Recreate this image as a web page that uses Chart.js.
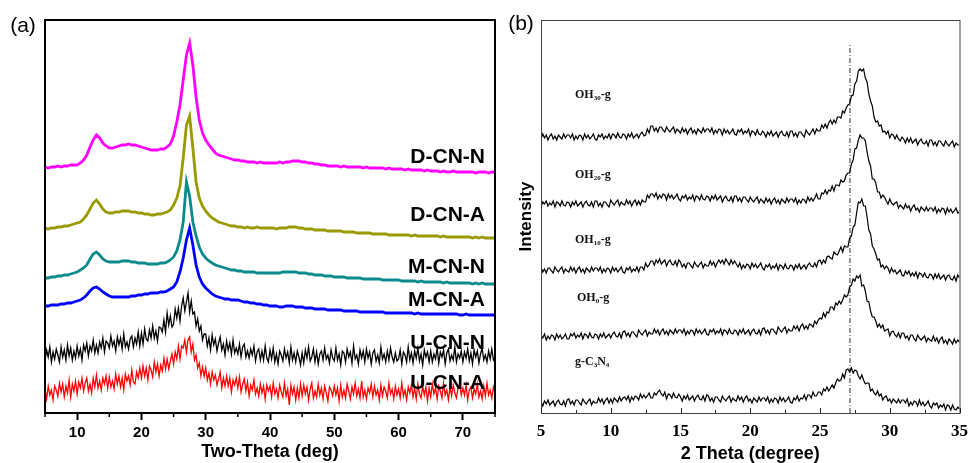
<!DOCTYPE html>
<html>
<head>
<meta charset="utf-8">
<title>XRD patterns</title>
<script src="https://cdn.jsdelivr.net/npm/chart.js@4.4.1/dist/chart.umd.min.js"></script>
<style>
  html, body { margin: 0; padding: 0; background: #fff; }
  #wrap { position: relative; width: 976px; height: 463px; overflow: hidden; }
  #panelA { position: absolute; left: 0; top: 0; }
  #panelB { position: absolute; left: 500px; top: 0; }
</style>
</head>
<body>
<div id="wrap">
  <canvas id="panelA" width="500" height="463"></canvas>
  <canvas id="panelB" width="476" height="463"></canvas>
</div>
<script>
// ---- panel (a): 2-theta grids (deg) ----
const thetaA = Array.from({ length: 141 }, (_, i) => 5 + i * 0.5);      // 0.5 deg steps
const thetaAfine = Array.from({ length: 281 }, (_, i) => 5 + i * 0.25); // 0.25 deg steps
const ticksA = [10, 20, 30, 40, 50, 60, 70];
const namesA = ['D-CN-N', 'D-CN-A', 'M-CN-N', 'M-CN-A', 'U-CN-N', 'U-CN-A'];

// intensities (a.u., stacked with offsets as plotted), one row = 5 deg
const dcnN = [
  246,245,246,246,247,246,247,247,248,248,
  248,250,253,258,266,273,278,275,270,267,
  265,265,266,267,268,268,269,268,268,267,
  266,265,264,263,263,263,264,264,266,269,
  277,291,308,333,358,370,348,316,293,280,
  273,268,264,260,258,257,256,255,254,253,
  253,252,252,251,251,251,250,251,250,250,
  250,250,250,251,250,251,251,252,252,252,
  251,251,250,250,249,249,248,248,247,247,
  247,247,246,247,246,246,246,246,246,245,
  246,245,245,245,245,245,244,245,244,244,
  244,244,243,244,243,243,243,243,242,243,
  242,242,242,241,242,241,241,242,241,241,
  241,241,241,241,240,241,241,241,240,241,
  241
];
const dcnA = [
  185,184,185,185,186,186,187,187,188,189,
  190,191,194,198,204,210,213,209,204,201,
  200,200,201,201,202,202,202,201,201,200,
  200,199,199,198,198,199,199,200,201,203,
  208,215,227,255,288,297,265,231,215,207,
  202,198,195,193,191,190,189,188,187,187,
  186,186,185,186,185,185,186,185,185,185,
  185,185,184,185,185,185,186,186,186,185,
  185,184,184,184,183,183,183,183,182,182,
  182,182,182,181,181,181,181,180,180,180,
  180,180,179,179,179,179,179,178,178,178,
  178,178,178,178,177,178,177,177,177,177,
  177,177,177,176,177,176,176,176,176,176,
  176,176,176,175,176,175,176,175,175,175,
  175
];
const mcnN = [
  135,135,136,136,137,137,138,138,139,140,
  141,143,145,148,154,159,161,158,154,152,
  151,151,151,151,152,152,152,151,151,150,
  150,150,149,149,149,149,150,150,151,153,
  156,162,173,191,231,217,191,177,166,159,
  155,152,150,148,147,146,145,144,143,143,
  142,142,141,141,141,141,140,140,140,140,
  140,140,140,140,141,141,141,141,141,140,
  140,140,139,139,138,138,138,137,137,137,
  136,136,136,136,135,135,135,135,135,134,
  134,134,134,134,134,133,133,133,133,133,
  133,132,132,132,132,132,131,132,131,131,
  131,131,131,131,130,131,130,130,130,130,
  130,130,130,129,130,129,130,129,129,129,
  129
];
const mcnA = [
  107,107,108,108,108,109,109,110,110,111,
  112,113,115,118,122,125,126,124,121,119,
  117,116,116,116,116,116,116,117,117,118,
  118,119,119,120,120,120,121,121,122,124,
  126,131,141,155,173,185,168,148,136,129,
  125,122,119,117,116,115,114,114,113,113,
  113,112,111,111,110,110,109,109,108,108,
  107,107,107,106,106,107,107,107,106,106,
  106,105,105,105,104,104,104,104,103,103,
  103,103,103,102,102,102,102,102,101,101,
  101,101,101,101,101,101,100,100,100,100,
  100,100,100,100,100,99,100,99,99,99,
  99,99,99,99,99,99,99,99,99,98,
  98,99,98,98,98,98,98,98,98,98,
  98
];
// noisy patterns on the 0.25 deg grid, one row = 5 deg
const ucnN = [
  52,63,56,66,51,61,54,64,58,51,66,56,63,53,68,57,65,53,62,55,
  67,57,64,53,68,62,70,57,67,62,73,60,68,60,71,65,75,61,72,70,
  65,77,67,72,62,76,68,75,64,79,66,71,64,74,77,66,75,69,81,67,
  80,69,84,74,72,83,75,87,75,82,72,86,85,81,93,81,100,88,97,86,
  89,104,95,105,92,107,115,102,111,120,101,112,99,101,87,94,82,87,73,79,
  79,67,75,63,78,68,74,62,70,76,63,69,58,72,63,70,59,73,60,65,
  59,69,56,66,69,56,62,55,64,58,67,52,61,64,53,62,53,67,55,51,
  63,54,65,51,59,49,62,58,52,64,55,61,50,66,53,60,51,62,56,48,
  60,50,63,55,66,52,56,64,51,61,49,59,62,53,65,54,58,50,63,55,
  52,65,53,59,48,62,60,51,64,56,61,50,67,54,58,49,63,55,62,51,
  64,55,61,49,60,63,52,58,50,66,54,59,51,62,53,65,56,51,60,52,
  54,63,49,61,58,51,66,53,60,50,62,55,65,52,59,48,63,56,61,51,
  62,51,59,54,65,50,61,56,63,49,60,64,52,58,53,66,51,59,55,62,
  51,61,55,64,52,60,49,63,56,62,50,59,65,53,58,51,62,54,64,53,
  56
];
const ucnA = [
  24,14,27,18,23,13,27,23,17,30,21,29,16,27,20,33,16,29,22,32,
  19,31,25,35,22,30,35,22,29,20,35,26,38,25,32,23,35,29,37,25,
  36,26,32,24,39,29,37,26,35,23,39,32,37,28,43,31,29,41,35,45,
  35,47,37,45,33,47,43,36,51,41,49,37,48,42,55,44,54,44,52,59,
  49,61,54,67,54,67,65,73,61,73,76,61,69,53,58,45,50,37,46,37,
  45,33,40,29,41,33,38,28,34,41,25,35,27,37,27,35,21,33,28,35,
  25,36,21,29,34,22,31,17,28,23,33,19,25,17,29,20,27,14,28,22,
  27,16,30,19,24,15,28,21,16,30,17,24,8,28,19,26,13,25,15,29,
  17,28,19,26,13,24,30,15,22,16,29,18,25,14,27,20,12,26,23,17,
  27,18,25,12,28,16,23,15,29,22,14,26,19,30,17,24,15,32,16,23,
  14,25,20,29,16,27,18,23,13,28,17,26,22,15,30,19,24,14,27,18,
  24,15,30,17,23,13,26,20,28,16,25,14,29,19,15,27,18,26,12,25,
  16,29,19,25,14,27,22,15,30,18,23,13,26,17,28,20,15,25,29,18,
  25,18,28,13,23,26,15,24,19,29,16,22,14,27,17,30,18,23,15,26,
  20
];

// ---- panel (b): 2-theta grid, 5..35 deg every 0.125 deg, one row = 2 deg ----
const thetaB = Array.from({ length: 241 }, (_, i) => 5 + i * 0.125);
const ticksB = [5, 10, 15, 20, 25, 30, 35];
const refTheta = 27.15;      // reference peak position (dash-dot marker)
const refTop = 369;

const oh30 = [
  274,279,275,278,273,277,279,274,277,273,278,276,274,279,275,278,
  278,275,279,273,277,274,278,277,273,279,275,278,274,276,279,274,
  273,278,276,279,274,277,275,279,274,279,278,275,280,276,275,279,
  278,274,279,276,280,275,277,279,275,279,281,277,278,284,280,287,
  287,282,285,281,286,286,283,281,286,283,281,284,286,280,284,282,
  280,285,281,284,279,283,285,280,283,279,284,282,280,285,281,284,
  284,281,285,279,283,280,284,283,278,284,280,283,279,281,284,279,
  278,283,281,284,279,282,280,284,277,282,281,278,283,279,278,282,
  280,276,281,278,282,277,279,281,276,280,282,278,277,281,276,282,
  282,277,280,276,281,281,278,276,283,280,278,281,284,279,284,282,
  282,288,285,289,285,290,293,289,293,290,296,296,295,302,300,305,
  308,309,317,318,329,332,342,344,342,344,335,331,319,312,307,296,
  291,292,287,288,281,282,279,282,275,279,278,274,278,274,272,276,
  274,270,275,271,275,270,272,274,268,272,274,270,269,272,267,273,
  273,268,271,267,272,272,269,267,272,269,267,270,272,266,270,268,
  268
];
const oh20 = [
  206,211,209,212,207,210,208,212,206,211,210,207,212,208,207,211,
  210,206,211,208,212,207,209,211,206,210,212,208,207,211,206,212,
  212,207,210,206,211,211,208,206,213,210,208,211,213,207,211,209,
  208,213,209,212,207,211,213,208,212,208,213,211,211,218,215,219,
  219,216,220,214,218,215,219,218,213,219,215,218,214,216,219,214,
  212,217,215,218,213,216,214,218,212,217,216,213,218,214,213,217,
  216,212,217,214,218,213,215,217,211,215,217,213,212,216,211,217,
  217,212,215,211,216,216,213,211,216,213,211,214,216,210,214,212,
  210,215,211,214,209,213,215,210,213,209,214,212,210,215,211,214,
  214,211,215,209,213,210,214,213,210,216,212,215,212,215,219,214,
  214,220,219,223,219,223,222,227,222,228,228,227,233,231,232,238,
  240,240,249,253,264,265,273,278,275,275,272,261,252,247,234,234,
  230,221,221,215,218,216,212,209,214,210,208,210,211,205,208,206,
  204,209,205,207,202,206,208,203,205,201,206,204,202,206,202,205,
  205,202,206,200,204,201,205,204,199,205,201,204,200,202,205,200,
  201
];
const oh10 = [
  146,141,144,140,145,145,142,140,146,143,141,144,146,140,144,142,
  141,146,142,145,140,144,146,141,144,140,145,143,141,146,142,145,
  145,142,146,140,144,141,145,144,140,146,142,145,141,143,146,141,
  140,145,143,146,141,144,142,146,141,146,146,143,150,146,148,152,
  152,148,153,150,154,149,151,153,147,151,153,149,148,152,147,153,
  151,146,149,145,150,150,147,145,151,148,146,149,151,145,149,147,
  147,152,148,151,146,150,153,150,153,149,154,151,148,153,149,152,
  149,146,150,144,148,145,149,148,144,150,146,149,145,147,150,145,
  143,148,146,149,144,147,145,149,143,148,147,144,149,145,144,148,
  147,143,148,145,149,144,146,148,144,148,150,147,146,150,146,152,
  153,149,153,150,156,157,155,154,161,159,158,162,166,161,167,166,
  166,175,177,186,188,200,211,210,214,207,207,196,183,179,167,164,
  159,153,154,146,148,144,147,145,140,145,141,143,139,141,143,138,
  137,142,139,142,137,140,137,141,135,140,139,136,140,136,135,139,
  138,134,139,135,139,134,136,138,133,137,138,134,133,137,132,138,
  135
];
const oh0 = [
  78,75,79,73,77,74,78,77,73,79,75,78,74,76,79,74,
  74,79,77,80,75,78,76,80,74,79,78,75,80,76,75,79,
  78,74,79,76,80,75,77,79,75,79,81,77,76,80,75,81,
  82,77,80,76,81,81,78,76,83,80,78,81,83,77,81,79,
  79,84,80,83,78,82,84,79,82,78,83,81,79,84,80,83,
  83,80,84,78,82,79,83,82,78,84,80,83,79,81,84,79,
  78,83,81,84,79,82,80,84,78,83,82,79,84,80,79,83,
  82,78,83,80,84,79,81,83,78,82,84,80,79,83,78,84,
  85,80,83,79,84,84,81,79,86,83,81,84,86,80,84,82,
  82,87,84,87,82,87,89,84,87,84,89,88,86,92,89,93,
  95,94,100,96,101,100,106,106,103,110,108,112,109,113,118,116,
  118,126,128,134,132,137,135,138,127,128,122,112,111,102,96,96,
  92,86,89,85,88,82,83,84,77,81,82,78,76,80,75,80,
  80,75,77,73,78,78,74,72,78,75,73,75,77,71,75,73,
  72,77,72,75,70,74,76,70,73,69,74,72,69,74,70,73,
  71
];
const gcn = [
  11,7,12,9,13,8,10,12,7,11,13,9,8,12,7,13,
  14,9,12,8,13,13,10,8,14,11,9,12,14,8,12,10,
  10,15,11,14,9,13,15,10,14,10,15,13,11,16,12,15,
  16,13,17,11,16,13,17,16,13,19,15,18,15,17,20,15,
  15,20,18,21,23,19,17,21,14,19,18,15,20,16,15,19,
  16,12,17,14,18,13,15,17,12,16,18,14,13,17,12,18,
  17,12,15,11,16,16,13,11,17,14,12,15,17,11,15,13,
  12,17,13,16,11,15,17,12,14,10,15,13,11,16,12,15,
  15,12,16,10,14,11,15,14,10,16,12,15,11,13,16,11,
  10,15,13,17,12,15,14,18,13,18,18,15,21,17,17,21,
  21,18,24,22,26,22,25,28,25,30,34,32,33,39,35,43,
  44,41,45,40,43,42,37,34,38,33,29,30,30,22,24,20,
  18,22,17,19,13,16,17,12,14,10,14,12,10,14,10,13,
  13,10,14,7,11,8,12,11,7,13,8,11,7,9,12,7,
  5,10,8,10,5,8,6,9,3,8,7,3,8,4,3,6,
  4
];

const SANS = '"Liberation Sans", Arial, sans-serif';
const SERIF = '"Liberation Serif", "Times New Roman", serif';

function pts(xs, ys) {
  return ys.map((y, i) => ({ x: xs[i], y: y }));
}

// ---------- panel (a) ----------
const colorsA = ['#ff00ff', '#999900', '#0a8a8a', '#0000ff', '#000000', '#ff0000'];
const seriesA = [dcnN, dcnA, mcnN, mcnA, ucnN, ucnA];
const labelYA = [157, 215, 267, 300, 343, 383];   // label centres, px

const decorA = {
  id: 'decorA',
  afterDraw(chart) {
    const { ctx, chartArea: a, scales } = chart;
    ctx.save();
    ctx.strokeStyle = '#000';
    ctx.lineWidth = 2;
    ctx.strokeRect(a.left, a.top, a.right - a.left, a.bottom - a.top);
    // minor ticks at 5, 15, ... 75
    ctx.lineWidth = 1.5;
    for (let v = 5; v <= 75; v += 10) {
      const x = scales.x.getPixelForValue(v);
      ctx.beginPath();
      ctx.moveTo(x, a.bottom);
      ctx.lineTo(x, a.bottom + 4);
      ctx.stroke();
    }
    ctx.fillStyle = '#000';
    ctx.font = 'bold 21px ' + SANS;
    ctx.textAlign = 'right';
    ctx.textBaseline = 'middle';
    namesA.forEach((n, i) => ctx.fillText(n, 485, labelYA[i]));
    ctx.font = '21px ' + SANS;
    ctx.textAlign = 'center';
    ctx.fillText('(a)', 23, 26);
    ctx.restore();
  }
};

new Chart(document.getElementById('panelA'), {
  type: 'line',
  data: {
    datasets: seriesA.map((s, i) => ({
      label: namesA[i],
      data: pts(i < 4 ? thetaA : thetaAfine, s),
      borderColor: colorsA[i],
      borderWidth: i < 4 ? 2.8 : 1.3,
      pointRadius: 0,
      tension: 0
    }))
  },
  options: {
    responsive: false,
    animation: false,
    layout: { padding: { left: 45, right: 5, top: 20, bottom: 0 } },
    plugins: { legend: { display: false }, tooltip: { enabled: false } },
    scales: {
      x: {
        type: 'linear',
        min: 5,
        max: 75,
        afterBuildTicks(s) { s.ticks = ticksA.map(v => ({ value: v })); },
        afterFit(s) { s.height = 50; },
        ticks: {
          color: '#000',
          padding: 4,
          maxRotation: 0,
          font: { family: SANS, size: 15, weight: 'bold' }
        },
        grid: { drawOnChartArea: false, drawTicks: true, tickLength: 7, tickWidth: 2, tickColor: '#000' },
        border: { display: true, color: '#000', width: 2 },
        title: {
          display: true,
          text: 'Two-Theta (deg)',
          color: '#000',
          padding: { top: 0, bottom: 0 },
          font: { family: SANS, size: 18, weight: 'bold' }
        }
      },
      y: { display: false, min: 0, max: 393 }
    }
  },
  plugins: [decorA]
});

// ---------- panel (b) ----------
const seriesB = [oh30, oh20, oh10, oh0, gcn];
// label pieces: [text, subscript?]
const namesB = [
  [['OH', false], ['30', true], ['-g', false]],
  [['OH', false], ['20', true], ['-g', false]],
  [['OH', false], ['10', true], ['-g', false]],
  [['OH', false], ['0', true], ['-g', false]],
  [['g-C', false], ['3', true], ['N', false], ['4', true]]
];
const labelPosB = [[75, 95], [75, 175], [75, 240], [77, 298], [75, 362]];

function drawRich(ctx, x, y, parts) {
  parts.forEach(([t, sub]) => {
    ctx.font = sub ? 'bold 7px ' + SERIF : 'bold 12px ' + SERIF;
    ctx.fillText(t, x, sub ? y + 3 : y);
    x += ctx.measureText(t).width;
  });
}

const decorB = {
  id: 'decorB',
  afterDraw(chart) {
    const { ctx, chartArea: a, scales } = chart;
    ctx.save();
    ctx.strokeStyle = '#444';
    ctx.lineWidth = 1;
    ctx.strokeRect(a.left + 0.5, a.top + 0.5, a.right - a.left, a.bottom - a.top);
    // inward ticks every 2.5 deg
    ctx.strokeStyle = '#222';
    for (let v = 5; v <= 35; v += 2.5) {
      const x = Math.round(scales.x.getPixelForValue(v)) + 0.5;
      const len = v % 5 === 0 ? 5 : 3;
      ctx.beginPath();
      ctx.moveTo(x, a.bottom);
      ctx.lineTo(x, a.bottom - len);
      ctx.stroke();
    }
    ctx.fillStyle = '#111';
    ctx.textAlign = 'left';
    ctx.textBaseline = 'middle';
    namesB.forEach((parts, i) => drawRich(ctx, labelPosB[i][0], labelPosB[i][1], parts));
    ctx.fillStyle = '#000';
    ctx.font = '21px ' + SANS;
    ctx.textAlign = 'center';
    ctx.fillText('(b)', 21, 24);
    ctx.restore();
  }
};

const datasetsB = seriesB.map(s => ({
  data: pts(thetaB, s),
  borderColor: '#000',
  borderWidth: 1.2,
  pointRadius: 0,
  tension: 0
}));
datasetsB.push({
  data: [{ x: refTheta, y: 0 }, { x: refTheta, y: refTop }],
  borderColor: '#333',
  borderWidth: 1,
  borderDash: [5, 2, 1, 2],
  pointRadius: 0
});

new Chart(document.getElementById('panelB'), {
  type: 'line',
  data: { datasets: datasetsB },
  options: {
    responsive: false,
    animation: false,
    layout: { padding: { left: 0, right: 10, top: 20, bottom: 0 } },
    plugins: { legend: { display: false }, tooltip: { enabled: false } },
    scales: {
      x: {
        type: 'linear',
        min: 5,
        max: 35,
        afterBuildTicks(s) { s.ticks = ticksB.map(v => ({ value: v })); },
        afterFit(s) { s.height = 50; },
        ticks: {
          color: '#000',
          padding: 8,
          maxRotation: 0,
          font: { family: SERIF, size: 17, weight: 'bold' }
        },
        grid: { display: false, drawTicks: false },
        border: { display: false },
        title: {
          display: true,
          text: '2 Theta (degree)',
          color: '#000',
          padding: { top: 0, bottom: 0 },
          font: { family: SANS, size: 18, weight: 'bold', lineHeight: 1.0 }
        }
      },
      y: {
        min: 0,
        max: 393,
        afterFit(s) { s.width = 41; },
        ticks: { display: false },
        grid: { display: false, drawTicks: false },
        border: { display: false },
        title: {
          display: true,
          text: 'Intensity',
          color: '#000',
          padding: { top: 16, bottom: 0 },
          font: { family: SANS, size: 17, weight: 'bold' }
        }
      }
    }
  },
  plugins: [decorB]
});
</script>
</body>
</html>
